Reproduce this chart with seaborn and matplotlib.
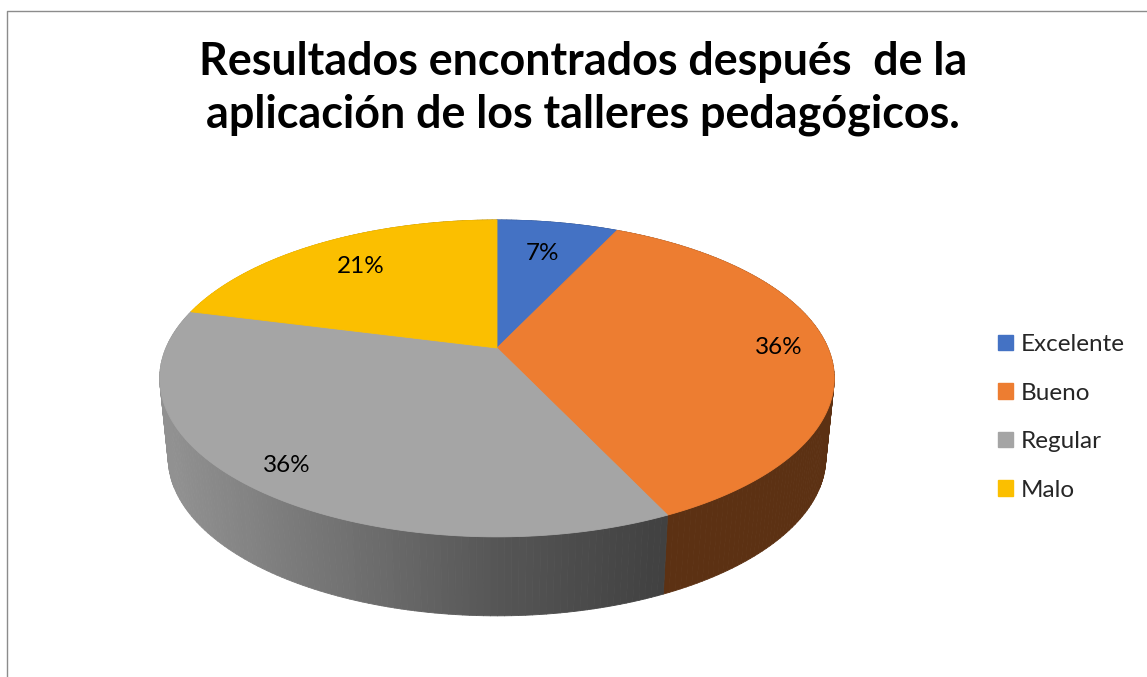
import numpy as np
import matplotlib
matplotlib.use("Agg")
import matplotlib.pyplot as plt
import matplotlib.transforms as mtransforms
from matplotlib.path import Path
from matplotlib.patches import Patch
from matplotlib.collections import PolyCollection
import matplotlib.colors as mcolors
import seaborn as sns

# ---------------- data ----------------
categories = ["Excelente", "Bueno", "Regular", "Malo"]
percentages = [7, 36, 36, 21]
colors = ["#4472C4", "#ED7D31", "#A5A5A5", "#FBBF00"]
title_lines = ["Resultados encontrados después  de la",
               "aplicación de los talleres pedagógicos."]

# ---------------- layout / style ----------------
W, H = 1147, 677
label_dist = [0.72, 0.85, 0.87, 0.75]   # radial position of each % label

sns.set_theme(style="white")
plt.rcParams["font.family"] = ["Lato", "DejaVu Sans"]
palette = sns.color_palette(colors)


def densify(path, n=40):
    verts, codes = [], []
    cur = start = None
    for seg, code in path.iter_segments(simplify=False, curves=True):
        seg = np.asarray(seg, float)
        if code == Path.MOVETO:
            cur = seg[-2:]
            start = cur
            verts.append(cur); codes.append(Path.MOVETO)
        elif code == Path.LINETO:
            cur = seg[-2:]
            verts.append(cur); codes.append(Path.LINETO)
        elif code == Path.CURVE3:
            p1, p2 = seg[0:2], seg[2:4]
            t = np.linspace(0, 1, n)[1:, None]
            pts = (1 - t) ** 2 * cur + 2 * (1 - t) * t * p1 + t ** 2 * p2
            verts.extend(pts); codes.extend([Path.LINETO] * len(pts))
            cur = p2
        elif code == Path.CURVE4:
            p1, p2, p3 = seg[0:2], seg[2:4], seg[4:6]
            t = np.linspace(0, 1, n)[1:, None]
            pts = ((1 - t) ** 3 * cur + 3 * (1 - t) ** 2 * t * p1
                   + 3 * (1 - t) * t ** 2 * p2 + t ** 3 * p3)
            verts.extend(pts); codes.extend([Path.LINETO] * len(pts))
            cur = p3
        elif code == Path.CLOSEPOLY:
            verts.append(start); codes.append(Path.CLOSEPOLY)
    return Path(np.array(verts), codes)


class Perspective(mtransforms.Transform):
    """Maps the unit pie disc onto a tilted 3-D disc (pixel coords)."""
    input_dims = output_dims = 2
    is_separable = False
    has_inverse = False

    def __init__(self, cx, cy, rx, ry, k, shrink=1.0, dz=0.0):
        super().__init__()
        self.cx, self.cy, self.rx, self.ry, self.k = cx, cy, rx, ry, k
        self.shrink, self.dz = shrink, dz

    def transform_non_affine(self, values):
        values = np.asarray(values, float)
        u, v = values[:, 0], values[:, 1]
        s = -v
        d = 1 + self.k * s
        X = self.cx + self.shrink * self.rx * u / d
        Y = self.cy + self.dz + self.ry * s / d
        return np.column_stack([X, Y])

    def transform_path_non_affine(self, path):
        dp = densify(path)
        return Path(self.transform_non_affine(dp.vertices), dp.codes)


fig = plt.figure(figsize=(W / 100, H / 100), dpi=100)
fig.patch.set_facecolor("white")
ax = fig.add_axes([0, 0, 1, 1])

top = Perspective(497, 348, 331, 152.6, -0.192)
bottom = Perspective(497, 348, 331, 152.6, -0.192, shrink=0.975, dz=79)

wedges, texts, autotexts = ax.pie(
    percentages, colors=palette, startangle=90, counterclock=False,
    autopct="%1.0f%%", pctdistance=1.0, radius=1, center=(0, 0),
    wedgeprops=dict(linewidth=0.6),
    textprops=dict(fontsize=17.5, color="black"))

ax.set_aspect("auto")
ax.set_xlim(0, W)
ax.set_ylim(H, 0)
ax.axis("off")

# ---- side wall of the 3-D pie ----
strips, fcs, keys = [], [], []
for w, col in zip(wedges, palette):
    th = np.radians(np.linspace(w.theta1, w.theta2,
                                max(3, int(abs(w.theta2 - w.theta1)) + 1)))
    uv = np.column_stack([np.cos(th), np.sin(th)])
    pt = top.transform(uv)
    pb = bottom.transform(uv)
    base = np.array(mcolors.to_rgb(col))
    for j in range(len(th) - 1):
        poly = [pt[j], pt[j + 1], pb[j + 1], pb[j]]
        xm = 0.5 * (pt[j, 0] + pt[j + 1, 0])
        f = np.interp(xm, [170, 497, 668], [0.88, 0.52, 0.39])
        strips.append(poly)
        fcs.append(tuple(base * f))
        keys.append(-0.5 * (uv[j, 1] + uv[j + 1, 1]))
order = np.argsort(keys)
side = PolyCollection([strips[i] for i in order],
                      facecolors=[fcs[i] for i in order],
                      edgecolors=[fcs[i] for i in order],
                      linewidths=0.6, zorder=1)
ax.add_collection(side)

# ---- top face ----
for w, col in zip(wedges, palette):
    w.set_transform(top + ax.transData)
    w.set_edgecolor(col)
    w.set_zorder(2)

for t, r in zip(autotexts, label_dist):
    x, y = t.get_position()
    t.set_position((x * r, y * r))
    t.set_transform(top + ax.transData)
    t.set_zorder(3)

# ---- title ----
ax.text(583, 75, title_lines[0], ha="center", va="baseline",
        fontsize=32.3, fontweight="bold", color="black")
ax.text(583, 127, title_lines[1], ha="center", va="baseline",
        fontsize=32.3, fontweight="bold", color="black")

# ---- chart-area border (top & left visible) ----
ax.plot([7, 7, W + 5], [H + 5, 11, 11], color="#8c8c8c", lw=1.0,
        clip_on=False, zorder=0)

# ---- legend ----
handles = [Patch(facecolor=c, edgecolor=c) for c in palette]
fig.legend(handles, categories, loc="center left",
           bbox_to_anchor=(998 / W, 1 - 417.5 / H), frameon=False,
           fontsize=17.5, handlelength=0.6, handleheight=0.6,
           handletextpad=0.35, labelspacing=1.13, borderpad=0,
           borderaxespad=0)

fig.savefig("out.png", dpi=100, facecolor="white")
